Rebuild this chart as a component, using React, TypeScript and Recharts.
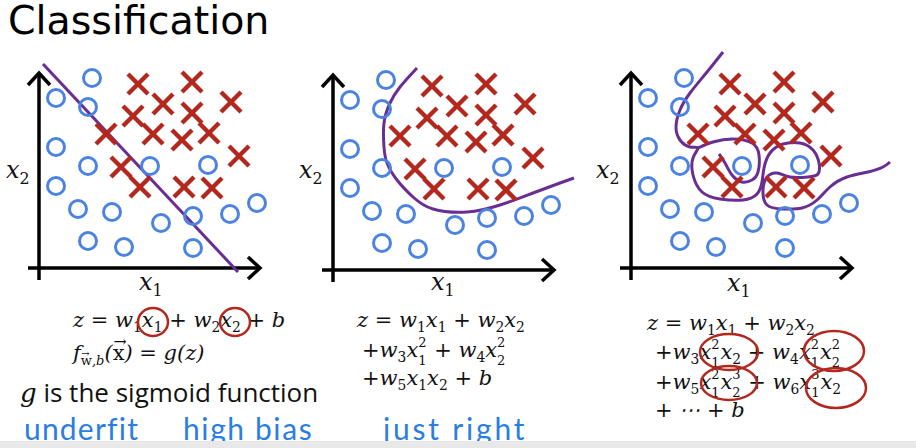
import React from 'react';
import {
  ComposedChart,
  Scatter,
  Line,
  XAxis,
  YAxis,
  ReferenceLine,
  ReferenceDot,
} from 'recharts';

const BLUE = '#4a84e0';
const RED = '#b3271d';
const PURPLE = '#6a2e92';
const INK = '#111';
const HAND = '#2a7de1';

// same training points in all three panels (x1, x2)
const circles = [
  { x: 5.3, y: 19.0 }, { x: 1.7, y: 17.0 }, { x: 4.9, y: 16.1 },
  { x: 1.7, y: 12.1 }, { x: 4.9, y: 10.2 }, { x: 11.1, y: 10.2 },
  { x: 16.9, y: 10.3 }, { x: 1.7, y: 8.2 }, { x: 3.9, y: 5.9 },
  { x: 7.3, y: 5.6 }, { x: 12.2, y: 4.5 }, { x: 15.4, y: 5.2 },
  { x: 19.1, y: 5.4 }, { x: 21.8, y: 6.5 }, { x: 4.9, y: 2.7 },
  { x: 8.5, y: 2.1 }, { x: 15.4, y: 2.0 },
];

const crosses = [
  { x: 9.9, y: 18.4 }, { x: 15.3, y: 18.6 }, { x: 12.4, y: 16.4 },
  { x: 19.2, y: 16.6 }, { x: 9.4, y: 15.2 }, { x: 15.3, y: 15.5 },
  { x: 6.7, y: 13.4 }, { x: 11.4, y: 13.4 }, { x: 14.3, y: 12.8 },
  { x: 17.0, y: 13.5 }, { x: 20.0, y: 11.2 }, { x: 8.2, y: 10.1 },
  { x: 10.1, y: 8.1 }, { x: 14.5, y: 8.1 }, { x: 17.3, y: 8.0 },
];

const linearBoundary = [
  { x: 0.4, y: 20.4 },
  { x: 19.9, y: -0.4 },
];

const quadraticBoundary = [
  { x: 8.4, y: 20.2 }, { x: 6.7, y: 18.3 }, { x: 5.7, y: 16.7 },
  { x: 5.1, y: 14.7 }, { x: 5.1, y: 12.3 }, { x: 5.4, y: 10.7 },
  { x: 6.4, y: 9.0 }, { x: 8.0, y: 7.3 }, { x: 10.0, y: 6.1 },
  { x: 13.4, y: 5.8 }, { x: 16.7, y: 6.5 }, { x: 20.0, y: 7.7 },
  { x: 22.7, y: 8.7 }, { x: 24.1, y: 9.2 },
];

const wigglyOuter = [
  { x: 9.2, y: 21.6 }, { x: 7.6, y: 19.6 }, { x: 5.9, y: 17.5 },
  { x: 4.9, y: 15.8 }, { x: 4.5, y: 14.1 }, { x: 4.9, y: 12.8 },
  { x: 5.9, y: 12.1 }, { x: 6.7, y: 12.0 }, { x: 6.2, y: 11.0 },
  { x: 6.2, y: 9.3 }, { x: 7.1, y: 7.6 }, { x: 8.9, y: 6.9 },
  { x: 11.2, y: 6.8 }, { x: 12.6, y: 7.4 }, { x: 13.1, y: 8.6 },
  { x: 13.3, y: 10.0 }, { x: 13.9, y: 11.5 }, { x: 15.2, y: 12.4 },
  { x: 16.9, y: 12.5 }, { x: 18.2, y: 11.8 }, { x: 18.8, y: 10.5 },
  { x: 18.7, y: 9.4 }, { x: 17.7, y: 9.1 }, { x: 15.9, y: 9.1 },
  { x: 14.6, y: 9.5 }, { x: 13.6, y: 9.1 }, { x: 13.2, y: 7.8 },
  { x: 13.6, y: 6.3 }, { x: 15.2, y: 5.9 }, { x: 17.1, y: 6.0 },
  { x: 18.6, y: 6.8 }, { x: 19.9, y: 8.1 }, { x: 21.6, y: 9.1 },
  { x: 23.7, y: 9.6 }, { x: 25.2, y: 10.1 }, { x: 25.9, y: 10.6 },
];

const wigglyInner = [
  { x: 6.7, y: 12.0 }, { x: 8.2, y: 12.6 }, { x: 10.2, y: 12.9 },
  { x: 12.1, y: 12.5 }, { x: 12.8, y: 11.3 }, { x: 12.7, y: 9.6 },
  { x: 12.1, y: 8.8 }, { x: 11.1, y: 8.6 }, { x: 10.1, y: 9.3 },
  { x: 9.4, y: 10.5 }, { x: 8.8, y: 11.4 },
];

const AXIS_TOP = 19.6;
const AXIS_RIGHT = 22.2;
const AXIS_BOTTOM = -1.2;
const AXIS_LEFT = -1.1;

const CircleMark = (props: any) => (
  <circle cx={props.cx} cy={props.cy} r={8.5} fill='none' stroke={BLUE} strokeWidth={3} />
);

const CrossMark = (props: any) => {
  const { cx, cy } = props;
  const s = 10;
  return (
    <g stroke={RED} strokeWidth={4.5} strokeLinecap='butt'>
      <line x1={cx - s} y1={cy - s} x2={cx + s} y2={cy + s} />
      <line x1={cx - s} y1={cy + s} x2={cx + s} y2={cy - s} />
    </g>
  );
};

const UpArrow = (props: any) => {
  const { cx, cy } = props;
  return (
    <polyline
      points={`${cx - 11},${cy + 13} ${cx},${cy + 1} ${cx + 11},${cy + 13}`}
      fill='none'
      stroke='#000'
      strokeWidth={3.5}
    />
  );
};

const RightArrow = (props: any) => {
  const { cx, cy } = props;
  return (
    <polyline
      points={`${cx - 13},${cy - 11} ${cx - 1},${cy} ${cx - 13},${cy + 11}`}
      fill='none'
      stroke='#000'
      strokeWidth={3.5}
    />
  );
};

type Boundary = { points: { x: number; y: number }[]; curve: 'linear' | 'natural' };

function Panel({
  left,
  top,
  xMax,
  boundaries,
}: {
  left: number;
  top: number;
  xMax: number;
  boundaries: Boundary[];
}) {
  const width = (xMax + 2) * 10;
  return (
    <div style={{ position: 'absolute', left, top }}>
      <ComposedChart width={width} height={240} margin={{ top: 0, right: 0, bottom: 0, left: 0 }}>
        <XAxis type='number' dataKey='x' domain={[-2, xMax]} hide allowDataOverflow />
        <YAxis type='number' dataKey='y' domain={[-2, 22]} hide allowDataOverflow />
        <ReferenceLine
          segment={[{ x: 0, y: AXIS_BOTTOM }, { x: 0, y: AXIS_TOP - 0.1 }]}
          stroke='#000'
          strokeWidth={3.5}
        />
        <ReferenceLine
          segment={[{ x: AXIS_LEFT, y: 0 }, { x: AXIS_RIGHT - 0.1, y: 0 }]}
          stroke='#000'
          strokeWidth={3.5}
        />
        <ReferenceDot x={0} y={AXIS_TOP} shape={UpArrow} />
        <ReferenceDot x={AXIS_RIGHT} y={0} shape={RightArrow} />
        <Scatter data={circles} shape={CircleMark} isAnimationActive={false} />
        <Scatter data={crosses} shape={CrossMark} isAnimationActive={false} />
        {boundaries.map((b, i) => (
          <Line
            key={i}
            data={b.points}
            dataKey='y'
            type={b.curve}
            stroke={PURPLE}
            strokeWidth={3}
            dot={false}
            activeDot={false}
            isAnimationActive={false}
          />
        ))}
      </ComposedChart>
    </div>
  );
}

const MATH = '"DejaVu Serif", "Liberation Serif", serif';

const Sub = ({ c }: { c: string }) => (
  <span style={{ fontSize: '0.66em', fontStyle: 'normal', position: 'relative', top: '0.35em' }}>{c}</span>
);

// stacked superscript over subscript, like x_1^2
const SS = ({ sub, sup }: { sub: string; sup: string }) => (
  <span
    style={{
      display: 'inline-block',
      position: 'relative',
      width: '0.44em',
      height: '0.7em',
      fontStyle: 'normal',
    }}
  >
    <span style={{ position: 'absolute', left: 0, top: '-40%', fontSize: '0.62em', lineHeight: 1 }}>{sup}</span>
    <span style={{ position: 'absolute', left: 0, top: '78%', fontSize: '0.62em', lineHeight: 1 }}>{sub}</span>
  </span>
);

// letter with a small arrow above it
const Vec = ({ c }: { c: string }) => (
  <span style={{ position: 'relative', fontStyle: 'normal' }}>
    {c}
    <span
      style={{
        position: 'absolute',
        left: '0.05em',
        top: '-0.42em',
        fontSize: '0.75em',
        lineHeight: 1,
      }}
    >
      {'\u2192'}
    </span>
  </span>
);

const Formula = ({
  left,
  top,
  size = 21,
  children,
}: {
  left: number;
  top: number;
  size?: number;
  children: React.ReactNode;
}) => (
  <div
    style={{
      position: 'absolute',
      left,
      top,
      fontFamily: MATH,
      fontStyle: 'italic',
      fontSize: size,
      lineHeight: 1,
      whiteSpace: 'nowrap',
      color: INK,
    }}
  >
    {children}
  </div>
);

const AxisLabel = ({ left, top, sub }: { left: number; top: number; sub: string }) => (
  <Formula left={left} top={top} size={24}>
    x<Sub c={sub} />
  </Formula>
);

const Hand = ({
  left,
  top,
  spacing = 1.6,
  children,
}: {
  left: number;
  top: number;
  spacing?: number;
  children: React.ReactNode;
}) => (
  <div
    style={{
      position: 'absolute',
      left,
      top,
      fontFamily: 'Lato, "Open Sans", sans-serif',
      fontWeight: 400,
      fontSize: 30,
      lineHeight: 1,
      color: HAND,
      whiteSpace: 'nowrap',
      letterSpacing: spacing,
    }}
  >
    {children}
  </div>
);

export default function App() {
  return (
    <div
      style={{
        position: 'absolute',
        left: 0,
        top: 0,
        width: 916,
        height: 448,
        overflow: 'hidden',
        background: '#fff',
      }}
    >
      <div
        style={{
          position: 'absolute',
          left: 8,
          top: -3,
          fontFamily: '"DejaVu Sans", sans-serif',
          fontSize: 39.5,
          lineHeight: 1.2,
          color: '#000',
        }}
      >
        Classification
      </div>

      <Panel left={19} top={48} xMax={24} boundaries={[{ points: linearBoundary, curve: 'linear' }]} />
      <Panel left={313} top={50} xMax={25} boundaries={[{ points: quadraticBoundary, curve: 'natural' }]} />
      <Panel
        left={611}
        top={48}
        xMax={27}
        boundaries={[
          { points: wigglyOuter, curve: 'natural' },
          { points: wigglyInner, curve: 'natural' },
        ]}
      />

      <AxisLabel left={139} top={270} sub='1' />
      <AxisLabel left={431} top={270} sub='1' />
      <AxisLabel left={727} top={271} sub='1' />
      <AxisLabel left={6} top={158} sub='2' />
      <AxisLabel left={299} top={158} sub='2' />
      <AxisLabel left={596} top={158} sub='2' />

      {/* left panel */}
      <Formula left={73} top={310}>
        z = w<Sub c='1' />x<Sub c='1' /> + w<Sub c='2' />x<Sub c='2' /> + b
      </Formula>
      <Formula left={73} top={343}>
        f
        <span style={{ fontSize: '0.62em', position: 'relative', top: '0.4em' }}>
          <Vec c='w' />,b
        </span>
        (<Vec c='x' />) = g(z)
      </Formula>
      <div
        style={{
          position: 'absolute',
          left: 20,
          top: 379,
          fontSize: 26,
          lineHeight: 1,
          whiteSpace: 'nowrap',
          color: INK,
        }}
      >
        <span style={{ fontFamily: MATH, fontStyle: 'italic' }}>g</span>
        <span style={{ fontFamily: '"Open Sans", sans-serif' }}> is the sigmoid function</span>
      </div>
      <Hand left={24} top={413} spacing={1.2}>underfit</Hand>
      <Hand left={183} top={413}>high bias</Hand>

      {/* middle panel */}
      <Formula left={357} top={310}>
        z = w<Sub c='1' />x<Sub c='1' /> + w<Sub c='2' />x<Sub c='2' />
      </Formula>
      <Formula left={362} top={340}>
        +w<Sub c='3' />x<SS sub='1' sup='2' /> + w<Sub c='4' />x<SS sub='2' sup='2' />
      </Formula>
      <Formula left={362} top={368}>
        +w<Sub c='5' />x<Sub c='1' />x<Sub c='2' /> + b
      </Formula>
      <Hand left={383} top={413} spacing={2.8}>just right</Hand>

      {/* right panel */}
      <Formula left={647} top={313}>
        z = w<Sub c='1' />x<Sub c='1' /> + w<Sub c='2' />x<Sub c='2' />
      </Formula>
      <Formula left={655} top={342}>
        +w<Sub c='3' />x<SS sub='1' sup='2' />x<Sub c='2' /> + w<Sub c='4' />x<SS sub='1' sup='2' />x<SS sub='2' sup='2' />
      </Formula>
      <Formula left={655} top={372}>
        +w<Sub c='5' />x<SS sub='1' sup='2' />x<SS sub='2' sup='3' /> + w<Sub c='6' />x<SS sub='1' sup='3' />x<Sub c='2' />
      </Formula>
      <Formula left={655} top={400}>
        + ⋯ + b
      </Formula>

      {/* red hand-drawn circles around the feature terms */}
      <svg
        width={916}
        height={448}
        style={{ position: 'absolute', left: 0, top: 0, pointerEvents: 'none' }}
      >
        <g fill='none' stroke={RED} strokeWidth={2.5}>
          <ellipse cx={153} cy={322} rx={15} ry={14} />
          <ellipse cx={235} cy={322} rx={15} ry={14} />
          <ellipse cx={729} cy={352} rx={29} ry={18} />
          <ellipse cx={834} cy={351} rx={30} ry={20} />
          <ellipse cx={729} cy={383} rx={28} ry={17} />
          <ellipse cx={836} cy={388} rx={30} ry={20} />
        </g>
      </svg>

      <div
        style={{
          position: 'absolute',
          left: 0,
          top: 441,
          width: 916,
          height: 7,
          background: '#e8e8e8',
        }}
      />
    </div>
  );
}
